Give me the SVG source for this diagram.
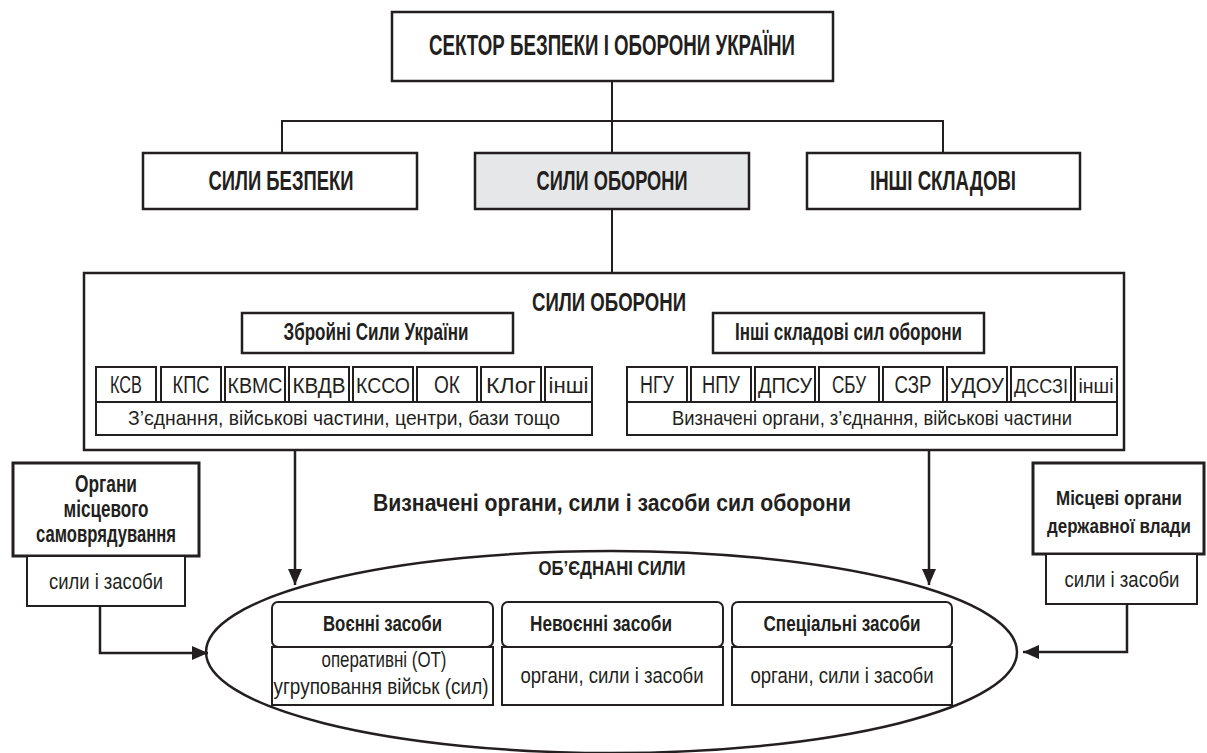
<svg xmlns="http://www.w3.org/2000/svg" width="1207" height="753" viewBox="0 0 1207 753">
<style>
text{font-family:"Liberation Sans Narrow","Liberation Sans",Arial,sans-serif;fill:#231f20;text-anchor:middle}
.b{font-weight:bold}
.box{fill:#fff;stroke:#231f20;stroke-width:2.5}
.thick{fill:#fff;stroke:#231f20;stroke-width:3}
.sm{fill:#fff;stroke:#231f20;stroke-width:2}
.ln{fill:none;stroke:#231f20;stroke-width:2}
.ar{fill:none;stroke:#231f20;stroke-width:2.5}
</style>
<defs>
<marker id="arr" viewBox="0 0 16 14" refX="16" refY="7" markerWidth="16" markerHeight="14" orient="auto" markerUnits="userSpaceOnUse"><path d="M0,0 L16,7 L0,14 Z" fill="#231f20"/></marker>
</defs>
<rect width="1207" height="753" fill="#fff"/>

<g id="connectors">
<line class="ln" x1="612" y1="81" x2="612" y2="153"/>
<polyline class="ln" points="282,153 282,121 943,121 943,153"/>
<line class="ln" x1="612" y1="209" x2="612" y2="273"/>
<line class="ar" x1="295" y1="450" x2="295" y2="585" marker-end="url(#arr)"/>
<line class="ar" x1="929" y1="450" x2="929" y2="585" marker-end="url(#arr)"/>
<polyline class="ar" points="100,606 100,653 208,653" marker-end="url(#arr)"/>
<polyline class="ar" points="1127,604 1127,652 1023,652" marker-end="url(#arr)"/>
</g>

<g id="sector">
<rect class="box" x="392" y="12" width="441" height="69"/>
<text class="b" x="612" y="55" font-size="29" textLength="366" lengthAdjust="spacingAndGlyphs">СЕКТОР БЕЗПЕКИ І ОБОРОНИ УКРАЇНИ</text>
</g>

<g id="syly-bezpeky">
<rect class="box" x="143" y="153" width="274" height="56"/>
<text class="b" x="281" y="190" font-size="28" textLength="145" lengthAdjust="spacingAndGlyphs">СИЛИ БЕЗПЕКИ</text>
</g>
<g id="syly-oborony">
<rect class="box" x="475" y="153" width="274" height="56" style="fill:#e6e7e8"/>
<text class="b" x="612" y="190" font-size="28" textLength="151" lengthAdjust="spacingAndGlyphs">СИЛИ ОБОРОНИ</text>
</g>
<g id="inshi-skladovi">
<rect class="box" x="807" y="153" width="273" height="56"/>
<text class="b" x="943" y="190" font-size="28" textLength="146" lengthAdjust="spacingAndGlyphs">ІНШІ СКЛАДОВІ</text>
</g>

<g id="container">
<rect class="box" x="84" y="273" width="1040" height="177"/>
<text class="b" x="609" y="311" font-size="25" textLength="154" lengthAdjust="spacingAndGlyphs">СИЛИ ОБОРОНИ</text>
</g>

<g id="zsu">
<rect class="box" x="242" y="313" width="271" height="40"/>
<text class="b" x="376" y="340" font-size="23" textLength="185" lengthAdjust="spacingAndGlyphs">Збройні Сили України</text>
</g>
<g id="zsu-units">
<rect class="sm" x="96" y="367" width="60" height="35"/>
<text x="126" y="393" font-size="23" textLength="32" lengthAdjust="spacingAndGlyphs">КСВ</text>
<rect class="sm" x="161" y="367" width="60" height="35"/>
<text x="191" y="393" font-size="23" textLength="37" lengthAdjust="spacingAndGlyphs">КПС</text>
<rect class="sm" x="225" y="367" width="60" height="35"/>
<text x="255" y="393" font-size="22" textLength="55" lengthAdjust="spacingAndGlyphs">КВМС</text>
<rect class="sm" x="289" y="367" width="60" height="35"/>
<text x="319" y="393" font-size="22" textLength="53" lengthAdjust="spacingAndGlyphs">КВДВ</text>
<rect class="sm" x="353" y="367" width="60" height="35"/>
<text x="383" y="393" font-size="22" textLength="54" lengthAdjust="spacingAndGlyphs">КССО</text>
<rect class="sm" x="417" y="367" width="60" height="35"/>
<text x="447" y="393" font-size="23" textLength="26" lengthAdjust="spacingAndGlyphs">ОК</text>
<rect class="sm" x="481" y="367" width="60" height="35"/>
<text x="511" y="393" font-size="22" textLength="50" lengthAdjust="spacingAndGlyphs">КЛог</text>
<rect class="sm" x="545" y="367" width="47" height="35"/>
<text x="568.5" y="393" font-size="22" textLength="40" lengthAdjust="spacingAndGlyphs">інші</text>
<rect class="sm" x="96" y="402" width="496" height="33"/>
<text x="344" y="425" font-size="21" textLength="432" lengthAdjust="spacingAndGlyphs">З’єднання, військові частини, центри, бази тощо</text>
</g>

<g id="inshi-skladovi-syl">
<rect class="box" x="713" y="313" width="271" height="40"/>
<text class="b" x="848.5" y="340" font-size="23" textLength="227" lengthAdjust="spacingAndGlyphs">Інші складові сил оборони</text>
</g>
<g id="other-units">
<rect class="sm" x="627" y="367" width="60" height="35"/>
<text x="657" y="393" font-size="23" textLength="34" lengthAdjust="spacingAndGlyphs">НГУ</text>
<rect class="sm" x="691" y="367" width="60" height="35"/>
<text x="721" y="393" font-size="23" textLength="38" lengthAdjust="spacingAndGlyphs">НПУ</text>
<rect class="sm" x="755" y="367" width="60" height="35"/>
<text x="785" y="393" font-size="22" textLength="54" lengthAdjust="spacingAndGlyphs">ДПСУ</text>
<rect class="sm" x="819" y="367" width="60" height="35"/>
<text x="849" y="393" font-size="23" textLength="34" lengthAdjust="spacingAndGlyphs">СБУ</text>
<rect class="sm" x="883" y="367" width="60" height="35"/>
<text x="913" y="393" font-size="23" textLength="37" lengthAdjust="spacingAndGlyphs">СЗР</text>
<rect class="sm" x="947" y="367" width="60" height="35"/>
<text x="977" y="393" font-size="22" textLength="54" lengthAdjust="spacingAndGlyphs">УДОУ</text>
<rect class="sm" x="1011" y="367" width="60" height="35"/>
<text x="1041" y="393" font-size="20" textLength="54" lengthAdjust="spacingAndGlyphs">ДССЗІ</text>
<rect class="sm" x="1075" y="367" width="42" height="35"/>
<text x="1096" y="393" font-size="21" textLength="35" lengthAdjust="spacingAndGlyphs">інші</text>
<rect class="sm" x="627" y="402" width="490" height="33"/>
<text x="872" y="425" font-size="21" textLength="400" lengthAdjust="spacingAndGlyphs">Визначені органи, з’єднання, військові частини</text>
</g>

<g id="label-vyznacheni">
<text class="b" x="612" y="511" font-size="24" textLength="478" lengthAdjust="spacingAndGlyphs">Визначені органи, сили і засоби сил оборони</text>
</g>

<g id="orhany-msv">
<rect class="thick" x="13" y="463" width="186" height="93"/>
<text class="b" x="106" y="492" font-size="23" textLength="62" lengthAdjust="spacingAndGlyphs">Органи</text>
<text class="b" x="106" y="517" font-size="23" textLength="85" lengthAdjust="spacingAndGlyphs">місцевого</text>
<text class="b" x="106" y="542" font-size="23" textLength="140" lengthAdjust="spacingAndGlyphs">самоврядування</text>
<rect class="sm" x="27" y="556" width="158" height="50"/>
<text x="106" y="589" font-size="22" textLength="114" lengthAdjust="spacingAndGlyphs">сили і засоби</text>
</g>

<g id="mistsevi-orhany">
<rect class="thick" x="1033" y="463" width="171" height="91"/>
<text class="b" x="1119" y="505" font-size="21" textLength="126" lengthAdjust="spacingAndGlyphs">Місцеві органи</text>
<text class="b" x="1119" y="533" font-size="21" textLength="144" lengthAdjust="spacingAndGlyphs">державної влади</text>
<rect class="sm" x="1046" y="554" width="151" height="50"/>
<text x="1122" y="587" font-size="22" textLength="115" lengthAdjust="spacingAndGlyphs">сили і засоби</text>
</g>

<g id="obyednani-syly">
<ellipse cx="611.5" cy="652" rx="405.5" ry="101" fill="none" stroke="#231f20" stroke-width="2.5"/>
<text class="b" x="612" y="575" font-size="21" textLength="147" lengthAdjust="spacingAndGlyphs">ОБ’ЄДНАНІ СИЛИ</text>
</g>

<g id="voienni">
<rect class="sm" x="272" y="602" width="221" height="45" rx="6"/>
<text class="b" x="382.5" y="631" font-size="22" textLength="119" lengthAdjust="spacingAndGlyphs">Воєнні засоби</text>
<rect class="sm" x="272" y="647" width="221" height="58"/>
<text x="384" y="667" font-size="22" textLength="125" lengthAdjust="spacingAndGlyphs">оперативні (ОТ)</text>
<text x="381" y="694" font-size="22" textLength="215" lengthAdjust="spacingAndGlyphs">угруповання військ (сил)</text>
</g>
<g id="nevoienni">
<rect class="sm" x="502" y="602" width="221" height="45" rx="6"/>
<text class="b" x="601" y="631" font-size="22" textLength="142" lengthAdjust="spacingAndGlyphs">Невоєнні засоби</text>
<rect class="sm" x="502" y="647" width="221" height="58"/>
<text x="612" y="683" font-size="22" textLength="183" lengthAdjust="spacingAndGlyphs">органи, сили і засоби</text>
</g>
<g id="spetsialni">
<rect class="sm" x="732" y="602" width="220" height="45" rx="6"/>
<text class="b" x="842" y="631" font-size="22" textLength="157" lengthAdjust="spacingAndGlyphs">Спеціальні засоби</text>
<rect class="sm" x="732" y="647" width="220" height="58"/>
<text x="842" y="683" font-size="22" textLength="183" lengthAdjust="spacingAndGlyphs">органи, сили і засоби</text>
</g>
</svg>
